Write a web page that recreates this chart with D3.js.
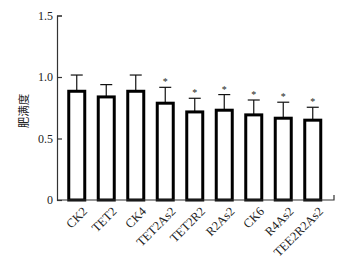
<!DOCTYPE html>
<html>
<head>
<meta charset="utf-8">
<script src="https://cdn.jsdelivr.net/npm/d3@7"></script>
<style>
  body { margin: 0; background: #fff; }
  text { font-family: 'Liberation Serif', 'DejaVu Serif', serif; fill: #222; }
</style>
</head>
<body>
<div id="chart"></div>
<script>
const groups = ['CK2', 'TET2', 'CK4', 'TET2As2', 'TET2R2', 'R2As2', 'CK6', 'R4As2', 'TEE2R2As2']
const means = [0.884, 0.838, 0.884, 0.787, 0.716, 0.730, 0.692, 0.665, 0.649]
const errs = [0.132, 0.100, 0.132, 0.129, 0.111, 0.127, 0.121, 0.130, 0.105]
const marked = [false, false, false, true, true, true, true, true, true]
const yTicks = [0, 0.5, 1.0, 1.5]

const width = 353, height = 266
const axisX = 57, axisY = 200, axisRight = 334

const svg = d3.select('#chart').append('svg')
  .attr('width', width)
  .attr('height', height)

const x = d3.scaleBand()
  .domain(groups)
  .range([62, 327.5])
  .padding(0)
const y = d3.scaleLinear()
  .domain([0, 1.5])
  .range([axisY, 15.5])

const barW = 16
const cx = d => x(d) + x.bandwidth() / 2

// y axis, ticks pointing inward
const yAxis = svg.append('g')
  .attr('transform', `translate(${axisX},0)`)
  .call(d3.axisLeft(y)
    .tickValues(yTicks)
    .tickFormat(d => d === 0 ? '0' : d3.format('.1f')(d))
    .tickSizeInner(-5)
    .tickSizeOuter(-5)
    .tickPadding(4))
yAxis.selectAll('path, line').attr('stroke', '#333').attr('stroke-width', 1.2)
yAxis.selectAll('text').style('font-size', '12px').attr('fill', '#333')

// bars
const bars = svg.append('g')
groups.forEach((g, i) => {
  const top = y(means[i])
  const errTop = y(means[i] + errs[i])
  bars.append('line')
    .attr('x1', cx(g)).attr('x2', cx(g))
    .attr('y1', top).attr('y2', errTop)
    .attr('stroke', '#111').attr('stroke-width', 1.2)
  bars.append('line')
    .attr('x1', cx(g) - 6).attr('x2', cx(g) + 6)
    .attr('y1', errTop).attr('y2', errTop)
    .attr('stroke', '#111').attr('stroke-width', 1.2)
  bars.append('rect')
    .attr('x', cx(g) - barW / 2)
    .attr('y', top)
    .attr('width', barW)
    .attr('height', axisY - top)
    .attr('fill', '#fff')
    .attr('stroke', '#000')
    .attr('stroke-width', 3)
  if (marked[i]) {
    bars.append('text')
      .attr('x', cx(g))
      .attr('y', errTop - 2)
      .attr('text-anchor', 'middle')
      .style('font-size', '10px')
      .text('*')
  }
})

// x axis baseline with small end tick
svg.append('path')
  .attr('d', `M${axisX},${axisY}H${axisRight}V${axisY - 5}`)
  .attr('fill', 'none')
  .attr('stroke', '#333')
  .attr('stroke-width', 1.2)

svg.append('g')
  .selectAll('text')
  .data(groups)
  .enter().append('text')
  .attr('transform', d => `translate(${cx(d) + 5},${axisY + 6}) rotate(-45)`)
  .attr('text-anchor', 'end')
  .attr('dy', '0.7em')
  .style('font-size', '12.5px')
  .text(d => d)

svg.append('text')
  .attr('transform', `translate(24,111) rotate(-90)`)
  .attr('text-anchor', 'middle')
  .attr('dy', '0.35em')
  .style('font-family', "'Noto Sans CJK SC', sans-serif")
  .style('font-size', '11.5px')
  .text('肥满度')
</script>
</body>
</html>
